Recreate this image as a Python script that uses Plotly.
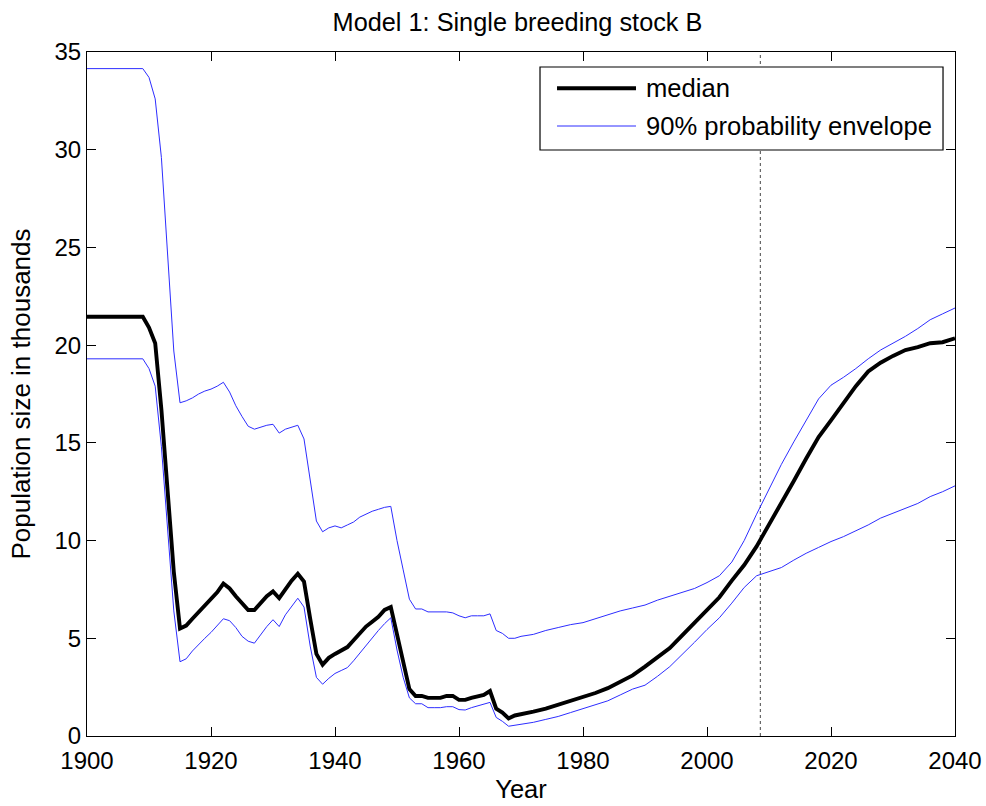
import plotly.graph_objects as go

# Simulation years (dense where the trajectories change abruptly)
years = [1900, 1909, 1910, 1911, 1912, 1913, 1914, 1915, 1916, 1917, 1918, 1919,
         1920, 1921, 1922, 1923, 1924, 1925, 1926, 1927, 1928, 1929, 1930, 1931,
         1932, 1933, 1934, 1935, 1936, 1937, 1938, 1939, 1940, 1941, 1942, 1943,
         1944, 1945, 1946, 1947, 1948, 1949, 1950, 1951, 1952, 1953, 1954, 1955,
         1956, 1957, 1958, 1959, 1960, 1961, 1962, 1963, 1964, 1965, 1966, 1967,
         1968, 1969, 1970, 1972, 1974, 1976, 1978, 1980, 1982, 1984, 1986, 1988,
         1990, 1992, 1994, 1996, 1998, 2000, 2002, 2004, 2006, 2008, 2010, 2012,
         2014, 2016, 2018, 2020, 2022, 2024, 2026, 2028, 2030, 2032, 2034, 2036,
         2038, 2040]

# Median population size (thousands)
median = [21.45, 21.45, 20.9, 20.1, 16.7, 12.6, 8.4, 5.5, 5.65, 6.0, 6.35, 6.7,
          7.0, 7.35, 7.8, 7.55, 7.15, 6.8, 6.45, 6.45, 6.8, 7.15, 7.4, 7.05,
          7.5, 7.95, 8.3, 7.9, 6.0, 4.2, 3.65, 4.0, 4.2, 4.35, 4.55, 4.9,
          5.25, 5.6, 5.85, 6.1, 6.45, 6.6, 5.2, 3.8, 2.4, 2.05, 2.05, 1.95,
          1.95, 1.95, 2.05, 2.05, 1.85, 1.85, 1.95, 2.0, 2.1, 2.3, 1.4, 1.2,
          0.9, 1.05, 1.1, 1.25, 1.4, 1.6, 1.8, 1.95, 2.2, 2.45, 2.8, 3.1,
          3.55, 4.0, 4.5, 5.15, 5.8, 6.5, 7.1, 7.95, 8.75, 9.7, 10.8, 11.95,
          13.05, 14.2, 15.3, 16.15, 17.05, 17.9, 18.65, 19.1, 19.45, 19.75, 19.9, 20.1,
          20.15, 20.35]

# Upper bound of the 90% probability envelope
upper = [34.15, 34.15, 33.7, 32.6, 29.6, 24.5, 19.7, 17.05, 17.15, 17.3, 17.5, 17.65,
         17.75, 17.9, 18.1, 17.6, 16.9, 16.35, 15.85, 15.7, 15.8, 15.9, 15.95, 15.5,
         15.7, 15.8, 15.9, 15.2, 13.1, 11.0, 10.45, 10.65, 10.75, 10.65, 10.8, 10.95,
         11.2, 11.35, 11.5, 11.6, 11.7, 11.75, 10.0, 8.5, 7.0, 6.5, 6.5, 6.35,
         6.35, 6.35, 6.35, 6.3, 6.15, 6.05, 6.15, 6.15, 6.15, 6.25, 5.4, 5.25,
         5.0, 5.0, 5.1, 5.2, 5.4, 5.55, 5.7, 5.8, 6.0, 6.2, 6.4, 6.55,
         6.7, 6.95, 7.15, 7.35, 7.55, 7.85, 8.2, 8.9, 10.0, 11.35, 12.6, 13.9,
         15.05, 16.15, 17.25, 17.95, 18.35, 18.8, 19.3, 19.75, 20.1, 20.45, 20.85, 21.3,
         21.6, 21.9]

# Lower bound of the 90% probability envelope
lower = [19.3, 19.3, 18.8, 17.9, 14.8, 10.6, 6.4, 3.8, 3.95, 4.35, 4.7, 5.0,
         5.3, 5.65, 6.0, 5.9, 5.55, 5.1, 4.85, 4.75, 5.2, 5.6, 5.95, 5.6,
         6.2, 6.65, 7.05, 6.6, 4.6, 3.0, 2.65, 2.95, 3.2, 3.35, 3.5, 3.85,
         4.25, 4.65, 5.0, 5.4, 5.75, 6.05, 4.4, 3.0, 1.95, 1.65, 1.65, 1.45,
         1.45, 1.45, 1.5, 1.5, 1.35, 1.33, 1.45, 1.55, 1.65, 1.72, 0.95, 0.75,
         0.5, 0.55, 0.6, 0.7, 0.85, 1.0, 1.2, 1.4, 1.6, 1.8, 2.1, 2.4,
         2.6, 3.05, 3.55, 4.15, 4.8, 5.45, 6.05, 6.8, 7.6, 8.2, 8.4, 8.62,
         9.0, 9.35, 9.65, 9.95, 10.2, 10.5, 10.8, 11.15, 11.4, 11.65, 11.9, 12.25,
         12.5, 12.8]

# Year separating observed history from projection
present_year = 2008.6

x_ticks = [1900, 1920, 1940, 1960, 1980, 2000, 2020, 2040]
y_ticks = [0, 5, 10, 15, 20, 25, 30, 35]

legend_labels = ["median", "90% probability envelope"]

FONT = "Liberation Sans, Arial, Helvetica, sans-serif"
ENV_COLOR = "rgb(45,45,255)"
MEDIAN_WIDTH = 3.9

fig = go.Figure()

fig.add_trace(go.Scatter(
    x=years, y=median, mode="lines", name=legend_labels[0],
    line=dict(color="black", width=MEDIAN_WIDTH),
))
fig.add_trace(go.Scatter(
    x=years, y=upper, mode="lines", name=legend_labels[1],
    line=dict(color=ENV_COLOR, width=1),
))
fig.add_trace(go.Scatter(
    x=years, y=lower, mode="lines", name=legend_labels[1],
    line=dict(color=ENV_COLOR, width=1),
))

# dotted marker at the start of the projection period
fig.add_shape(
    type="line", xref="x", yref="paper",
    x0=present_year, x1=present_year, y0=0, y1=1,
    line=dict(color="rgb(70,70,70)", width=1, dash="dot"),
    layer="below",
)

# boxed legend in the upper-right corner of the axes
fig.add_shape(
    type="rect", xref="paper", yref="paper",
    x0=0.5219, x1=0.9862, y0=0.8567, y1=0.9781,
    line=dict(color="black", width=1.2), fillcolor="white", layer="above",
)
legend_rows = [
    (0.9469, dict(color="black", width=MEDIAN_WIDTH)),
    (0.8918, dict(color=ENV_COLOR, width=1)),
]
for label, (ypos, style) in zip(legend_labels, legend_rows):
    fig.add_shape(
        type="line", xref="paper", yref="paper",
        x0=0.5415, x1=0.6325, y0=ypos, y1=ypos, line=style, layer="above",
    )
    fig.add_annotation(
        xref="paper", yref="paper", x=0.6418, y=ypos,
        xanchor="left", yanchor="middle", text=label, showarrow=False,
        font=dict(family=FONT, size=25.6, color="black"),
    )

axis_common = dict(
    showgrid=False, zeroline=False, showline=True, linecolor="black",
    linewidth=1.2, mirror="ticks", ticks="inside", ticklen=9, tickwidth=1.2,
    tickcolor="black", tickfont=dict(family=FONT, size=24, color="black"),
    automargin=False,
)

fig.update_layout(
    width=986, height=806,
    margin=dict(l=87, r=31, t=52, b=70),
    paper_bgcolor="white", plot_bgcolor="white",
    font=dict(family=FONT, color="black"),
    showlegend=False,
    title=dict(
        text="Model 1: Single breeding stock B",
        font=dict(family=FONT, size=25.3, color="black"),
        x=517.5 / 986, xref="container", xanchor="center",
        y=1 - 22 / 806, yref="container", yanchor="middle",
    ),
    xaxis=dict(
        range=[1900, 2040], tickvals=x_ticks, ticklabelstandoff=3,
        title=dict(text="Year", font=dict(family=FONT, size=25.5), standoff=7),
        **axis_common,
    ),
    yaxis=dict(
        range=[0, 35], tickvals=y_ticks,
        title=dict(text="Population size in thousands",
                   font=dict(family=FONT, size=26), standoff=16),
        **axis_common,
    ),
)

fig.write_html("out.html")
